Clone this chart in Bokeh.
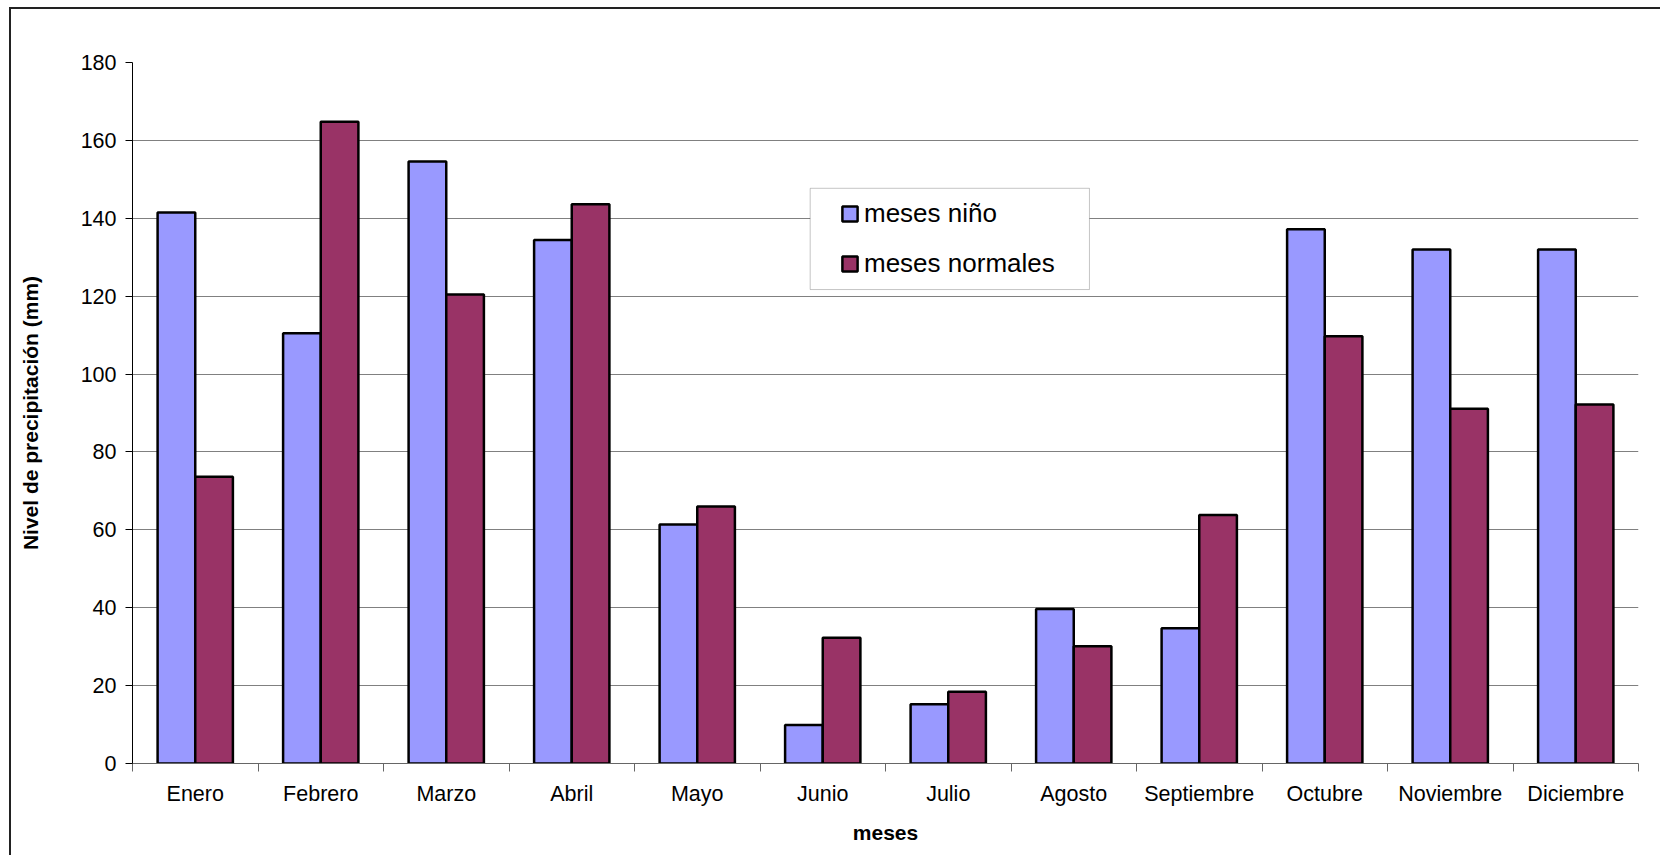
import numpy as np
from bokeh.plotting import figure
from bokeh.models import Range1d, FixedTicker, Legend, LegendItem, BoxAnnotation
from bokeh.embed import file_html
from bokeh.resources import INLINE

months = ["Enero", "Febrero", "Marzo", "Abril", "Mayo", "Junio", "Julio",
          "Agosto", "Septiembre", "Octubre", "Noviembre", "Diciembre"]
nino = [141.5, 110.5, 154.6, 134.4, 61.4, 9.9, 15.2, 39.7, 34.7, 137.2, 132.0, 132.0]
normales = [73.6, 164.8, 120.4, 143.6, 66.0, 32.3, 18.4, 30.1, 63.8, 109.7, 91.1, 92.2]
y_ticks = [0, 20, 40, 60, 80, 100, 120, 140, 160, 180]
series_names = ["meses niño", "meses normales"]
series_colors = ["#9999FF", "#993366"]

FONT = "Liberation Sans"

idx = np.arange(len(months))
centers = idx + 0.5

p = figure(width=1651, height=848, output_backend="svg", toolbar_location=None,
           x_range=Range1d(0, len(months)), y_range=Range1d(0, 180),
           min_border_left=121, min_border_right=24, min_border_top=53,
           min_border_bottom=94)
p.styles = {"margin-left": "9px", "margin-top": "7px",
            "border-left": "2px solid #222", "border-top": "2px solid #222"}
p.outline_line_color = None
p.background_fill_color = "white"
p.border_fill_color = "white"

r1 = p.vbar(x=centers - 0.15, width=0.3, top=nino, bottom=0,
            fill_color=series_colors[0], line_color="black", line_width=2.5)
r2 = p.vbar(x=centers + 0.15, width=0.3, top=normales, bottom=0,
            fill_color=series_colors[1], line_color="black", line_width=2.5)

# grid
p.xgrid.visible = False
p.ygrid.ticker = FixedTicker(ticks=y_ticks[1:-1])
p.ygrid.grid_line_color = "#808080"
p.ygrid.grid_line_width = 1
p.ygrid.level = "underlay"

# y axis
p.yaxis.ticker = FixedTicker(ticks=y_ticks)
p.yaxis.axis_line_color = "black"
p.yaxis.major_tick_line_color = "black"
p.yaxis.major_tick_out = 7
p.yaxis.major_tick_in = 0
p.yaxis.minor_tick_line_color = None
p.yaxis.major_label_text_font = FONT
p.yaxis.major_label_text_font_size = "21.5px"
p.yaxis.major_label_text_color = "black"
p.yaxis.major_label_standoff = 9
p.yaxis.axis_label = "Nivel de precipitación (mm)"
p.yaxis.axis_label_text_font = FONT
p.yaxis.axis_label_text_font_size = "21px"
p.yaxis.axis_label_text_font_style = "bold"
p.yaxis.axis_label_text_color = "black"
p.yaxis.axis_label_standoff = 36

# x axis: labels at centres, ticks at boundaries
p.xaxis.ticker = FixedTicker(ticks=list(centers), minor_ticks=list(range(len(months) + 1)))
p.xaxis.major_label_overrides = {float(c): m for c, m in zip(centers, months)}
p.xaxis.axis_line_color = "#666666"
p.xaxis.major_tick_line_color = None
p.xaxis.major_tick_out = 8
p.xaxis.major_tick_in = 0
p.xaxis.minor_tick_line_color = "#666666"
p.xaxis.minor_tick_out = 8
p.xaxis.minor_tick_in = 0
p.xaxis.major_label_text_font = FONT
p.xaxis.major_label_text_font_size = "21.5px"
p.xaxis.major_label_text_color = "black"
p.xaxis.major_label_standoff = 10
p.xaxis.axis_label = "meses"
p.xaxis.axis_label_text_font = FONT
p.xaxis.axis_label_text_font_size = "21px"
p.xaxis.axis_label_text_font_style = "bold"
p.xaxis.axis_label_text_color = "black"
p.xaxis.axis_label_standoff = 12

# legend box and legend
box = BoxAnnotation(left=5.40, right=7.625, bottom=121.7, top=147.7,
                    fill_color="white", fill_alpha=1.0,
                    line_color="#404040", line_width=1, level="annotation")
p.add_layout(box)

legend = Legend(items=[LegendItem(label=series_names[0], renderers=[r1]),
                       LegendItem(label=series_names[1], renderers=[r2])],
                location=(708, 484), orientation="vertical")
legend.border_line_color = None
legend.background_fill_alpha = 0
legend.padding = 0
legend.margin = 0
legend.spacing = 19
legend.glyph_width = 19
legend.glyph_height = 19
legend.label_height = 30
legend.label_standoff = 5
legend.label_text_font = FONT
legend.label_text_font_size = "26px"
legend.label_text_color = "black"
p.add_layout(legend, "center")

open("out.html", "w").write(file_html(p, INLINE))
